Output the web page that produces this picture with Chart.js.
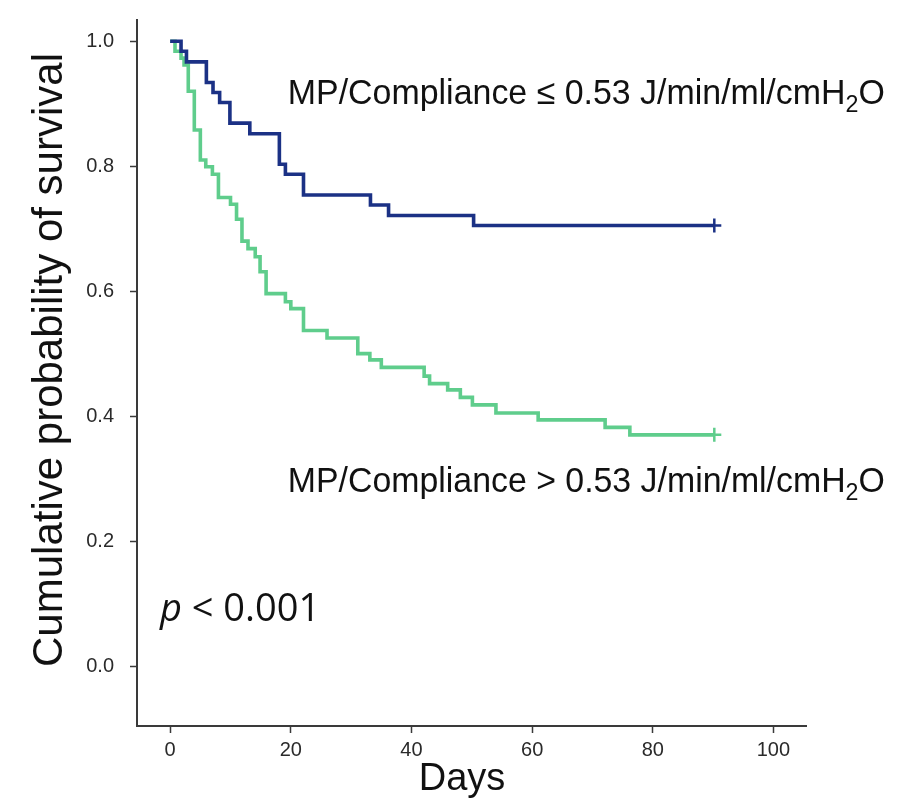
<!DOCTYPE html>
<html>
<head>
<meta charset="utf-8">
<script src="https://cdn.jsdelivr.net/npm/chart.js@4.4.0/dist/chart.umd.min.js"></script>
<style>
  html, body { margin: 0; padding: 0; background: #fff; }
  #wrap { width: 910px; height: 803px; }
</style>
</head>
<body>
<div id="wrap"><canvas id="kmChart" width="910" height="803"></canvas></div>
<script>
// Kaplan-Meier steps: day of each event and survival right after it
const lowDays = [0, 1.8, 2.7, 6.0, 7.1, 8.2, 9.9, 13.2, 18.1, 19.1, 22.1, 33.2, 36.2, 50.3, 90.2];
const lowSurv = [1.0, 0.984, 0.967, 0.934, 0.918, 0.902, 0.869, 0.852, 0.803, 0.787, 0.754, 0.738, 0.721, 0.705, 0.705];

const highDays = [0, 0.8, 1.8, 2.3, 3.0, 4.0, 5.0, 5.9, 7.0, 8.0, 10.0, 11.0, 11.9, 12.9, 14.1, 14.9, 15.9,
  19.1, 20.0, 22.1, 26.0, 31.1, 33.1, 35.0, 42.1, 43.0, 46.0, 48.1, 50.1, 54.0, 61.0, 72.1, 76.2, 90.2];
const highSurv = [1.0, 0.984, 0.973, 0.962, 0.92, 0.858, 0.81, 0.799, 0.787, 0.75, 0.739, 0.715, 0.68, 0.668, 0.655, 0.631, 0.596,
  0.583, 0.572, 0.537, 0.525, 0.50, 0.49, 0.478, 0.464, 0.452, 0.442, 0.43, 0.418, 0.405, 0.394, 0.382, 0.37, 0.37];

const groupNames = ["MP/Compliance \u2264 0.53 J/min/ml/cmH", "MP/Compliance > 0.53 J/min/ml/cmH"];
const xTicks = [0, 20, 40, 60, 80, 100];
const yTicks = [0, 0.2, 0.4, 0.6, 0.8, 1.0];

const BLUE = "#1b3185";
const GREEN = "#5fcd8c";
const AXIS = "#3a3a3a";
const SANS = "'Liberation Sans', Arial, sans-serif";

function toPoints(days, surv) {
  return days.map((d, i) => ({ x: d, y: surv[i] }));
}
// censor tick only on the last point of each curve
function censorRadius(days) {
  return days.map((d, i) => (i === days.length - 1 ? 7 : 0));
}

// where the group labels and the p value sit (data coords)
const notes = [
  { text: groupNames[0], sub: "2", tail: "O", x: 19.5, y: 0.9, width: 597 },
  { text: groupNames[1], sub: "2", tail: "O", x: 19.5, y: 0.279, width: 597 },
];

const notesPlugin = {
  id: "kmNotes",
  afterDraw(chart) {
    const { ctx, scales } = chart;
    ctx.save();
    ctx.fillStyle = "#111";
    ctx.textBaseline = "alphabetic";
    notes.forEach((n) => {
      const px = scales.x.getPixelForValue(n.x);
      const py = scales.y.getPixelForValue(n.y);
      const big = "35px " + SANS;
      const small = "24px " + SANS;
      ctx.font = big;
      const w1 = ctx.measureText(n.text).width;
      const w3 = ctx.measureText(n.tail).width;
      ctx.font = small;
      const w2 = ctx.measureText(n.sub).width;
      const sx = n.width / (w1 + w2 + w3);
      ctx.save();
      ctx.translate(px, py);
      ctx.scale(sx, 1);
      ctx.font = big;
      ctx.fillText(n.text, 0, 0);
      ctx.font = small;
      ctx.fillText(n.sub, w1, 8);
      ctx.font = big;
      ctx.fillText(n.tail, w1 + w2, 0);
      ctx.restore();
    });
    // p value
    const ppx = scales.x.getPixelForValue(-1.7);
    const ppy = scales.y.getPixelForValue(0.072);
    ctx.font = "italic 38px 'Open Sans', sans-serif";
    ctx.fillText("p", ppx, ppy);
    const pw = ctx.measureText("p ").width;
    ctx.font = "38px 'Open Sans', sans-serif";
    ctx.fillText("< 0.001", ppx + pw, ppy);

    // axis titles
    ctx.textAlign = "center";
    ctx.font = "38px " + SANS;
    ctx.fillText("Days", 462, 790);
    ctx.translate(62, 360);
    ctx.rotate(-Math.PI / 2);
    ctx.font = "42px " + SANS;
    ctx.fillText("Cumulative probability of survival", 0, 0);
    ctx.restore();
  },
};

new Chart(document.getElementById("kmChart"), {
  type: "line",
  data: {
    datasets: [
      {
        label: groupNames[0],
        data: toPoints(lowDays, lowSurv),
        borderColor: BLUE,
        backgroundColor: BLUE,
        borderWidth: 3.6,
        stepped: "before",
        pointStyle: "cross",
        pointRadius: censorRadius(lowDays),
        pointBorderWidth: 2.5,
        pointBorderColor: BLUE,
      },
      {
        label: groupNames[1],
        data: toPoints(highDays, highSurv),
        borderColor: GREEN,
        backgroundColor: GREEN,
        borderWidth: 3.6,
        stepped: "before",
        pointStyle: "cross",
        pointRadius: censorRadius(highDays),
        pointBorderWidth: 2.5,
        pointBorderColor: GREEN,
      },
    ],
  },
  options: {
    responsive: false,
    animation: false,
    devicePixelRatio: 1,
    layout: { padding: { left: 0, right: 104, top: 20, bottom: 0 } },
    plugins: {
      legend: { display: false },
      tooltip: { enabled: false },
    },
    scales: {
      x: {
        type: "linear",
        min: -5.5,
        max: 105.4,
        afterBuildTicks(scale) {
          scale.ticks = xTicks.map((v) => ({ value: v }));
        },
        afterFit(scale) {
          scale.height = 77;
          scale.paddingLeft = 0;
          scale.paddingRight = 0;
        },
        grid: { display: true, drawOnChartArea: false, drawTicks: true, tickLength: 7, tickColor: AXIS, tickWidth: 1.5 },
        border: { display: true, color: AXIS, width: 2 },
        ticks: {
          color: "#2a2a2a",
          padding: 5,
          font: { family: SANS, size: 20 },
          callback: (v) => String(v),
        },
      },
      y: {
        type: "linear",
        min: -0.096,
        max: 1.034,
        afterBuildTicks(scale) {
          scale.ticks = yTicks.map((v) => ({ value: v }));
        },
        afterFit(scale) {
          scale.width = 137;
          scale.paddingTop = 0;
          scale.paddingBottom = 0;
        },
        grid: { display: true, drawOnChartArea: false, drawTicks: true, tickLength: 7, tickColor: AXIS, tickWidth: 1.5 },
        border: { display: true, color: AXIS, width: 2 },
        ticks: {
          color: "#2a2a2a",
          padding: 16,
          font: { family: SANS, size: 20 },
          callback: (v) => v.toFixed(1),
        },
      },
    },
  },
  plugins: [notesPlugin],
});
</script>
</body>
</html>
